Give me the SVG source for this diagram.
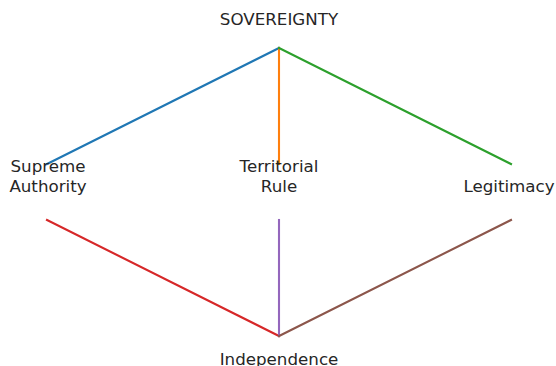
<svg xmlns="http://www.w3.org/2000/svg" width="556" height="366" viewBox="0 0 556 366">
  <style>
    .bg { fill: #ffffff; }
    .edge { fill: none; stroke-width: 2.1; stroke-linecap: square; }
    .label { font-family: "DejaVu Sans", "Liberation Sans", sans-serif; font-size: 16.7px; fill: #262626; text-anchor: middle; }
  </style>
  <rect class="bg" x="0" y="0" width="556" height="366"/>

  <g id="connectors">
    <line class="edge" x1="279" y1="48" x2="47" y2="164" stroke="#1f77b4"/>
    <line class="edge" x1="279" y1="48" x2="279" y2="164" stroke="#ff7f0e"/>
    <line class="edge" x1="279" y1="48" x2="511" y2="164" stroke="#2ca02c"/>
    <line class="edge" x1="47" y1="220" x2="279" y2="336" stroke="#d62728"/>
    <line class="edge" x1="279" y1="220" x2="279" y2="336" stroke="#9467bd"/>
    <line class="edge" x1="511" y1="220" x2="279" y2="336" stroke="#8c564b"/>
  </g>

  <g id="sovereignty">
    <text class="label" x="279" y="25">SOVEREIGNTY</text>
  </g>
  <g id="supreme-authority">
    <text class="label" x="48" y="172">Supreme</text>
    <text class="label" x="48" y="192">Authority</text>
  </g>
  <g id="territorial-rule">
    <text class="label" x="279" y="172">Territorial</text>
    <text class="label" x="279" y="192">Rule</text>
  </g>
  <g id="legitimacy">
    <text class="label" x="509" y="192">Legitimacy</text>
  </g>
  <g id="independence">
    <text class="label" x="279" y="365">Independence</text>
  </g>
</svg>
